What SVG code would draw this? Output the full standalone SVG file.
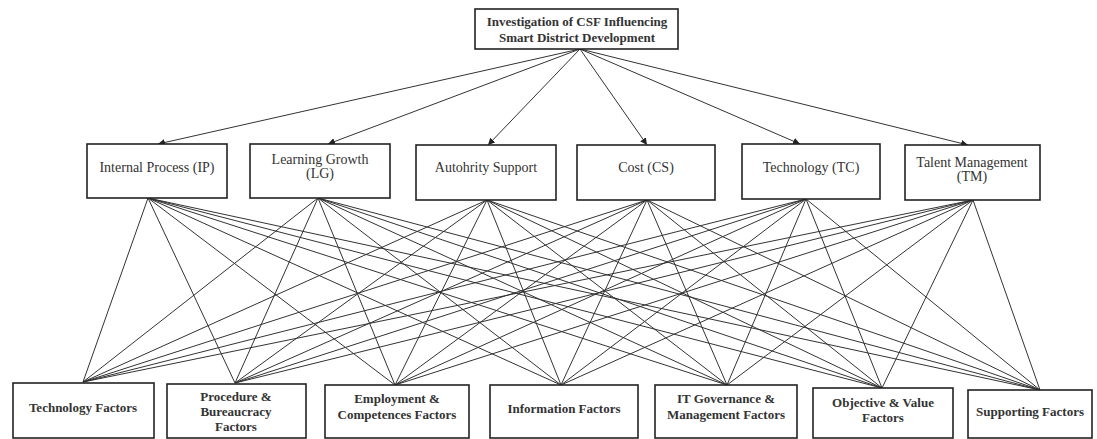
<svg xmlns="http://www.w3.org/2000/svg" width="1097" height="439" viewBox="0 0 1097 439">
<defs>
<marker id="arr" viewBox="0 0 10 10" refX="10" refY="5" markerWidth="7" markerHeight="7" orient="auto-start-reverse" markerUnits="userSpaceOnUse">
<path d="M0,0 L10,5 L0,10 z" fill="#222"/>
</marker>
<style>
.box{fill:#fff;stroke:#222;stroke-width:1.6}
.t{font-family:"Liberation Serif","Times New Roman",serif;font-size:14px;fill:#333;text-anchor:middle}
.b{font-weight:bold;font-size:13px}
.c line{stroke:#333;stroke-width:1}
</style>
</defs>
<rect width="1097" height="439" fill="#fff"/>
<g id="connectors" class="c">
<g id="top-links">
<line x1="580" y1="49" x2="158" y2="144" marker-end="url(#arr)"/>
<line x1="580" y1="49" x2="328" y2="144" marker-end="url(#arr)"/>
<line x1="580" y1="49" x2="488" y2="145" marker-end="url(#arr)"/>
<line x1="580" y1="49" x2="647" y2="145" marker-end="url(#arr)"/>
<line x1="580" y1="49" x2="800" y2="144" marker-end="url(#arr)"/>
<line x1="580" y1="49" x2="968" y2="145" marker-end="url(#arr)"/>
</g>
<g id="bottom-links">
<line x1="148" y1="198" x2="83" y2="382"/><line x1="148" y1="198" x2="235" y2="383"/><line x1="148" y1="198" x2="395" y2="385"/><line x1="148" y1="198" x2="561" y2="385"/><line x1="148" y1="198" x2="727" y2="385"/><line x1="148" y1="198" x2="882" y2="388"/><line x1="148" y1="198" x2="1040" y2="390"/>
<line x1="318" y1="198" x2="83" y2="382"/><line x1="318" y1="198" x2="235" y2="383"/><line x1="318" y1="198" x2="395" y2="385"/><line x1="318" y1="198" x2="561" y2="385"/><line x1="318" y1="198" x2="727" y2="385"/><line x1="318" y1="198" x2="882" y2="388"/><line x1="318" y1="198" x2="1040" y2="390"/>
<line x1="487" y1="200" x2="83" y2="382"/><line x1="487" y1="200" x2="235" y2="383"/><line x1="487" y1="200" x2="395" y2="385"/><line x1="487" y1="200" x2="561" y2="385"/><line x1="487" y1="200" x2="727" y2="385"/><line x1="487" y1="200" x2="882" y2="388"/><line x1="487" y1="200" x2="1040" y2="390"/>
<line x1="647" y1="200" x2="83" y2="382"/><line x1="647" y1="200" x2="235" y2="383"/><line x1="647" y1="200" x2="395" y2="385"/><line x1="647" y1="200" x2="561" y2="385"/><line x1="647" y1="200" x2="727" y2="385"/><line x1="647" y1="200" x2="882" y2="388"/><line x1="647" y1="200" x2="1040" y2="390"/>
<line x1="806" y1="199" x2="83" y2="382"/><line x1="806" y1="199" x2="235" y2="383"/><line x1="806" y1="199" x2="395" y2="385"/><line x1="806" y1="199" x2="561" y2="385"/><line x1="806" y1="199" x2="727" y2="385"/><line x1="806" y1="199" x2="882" y2="388"/><line x1="806" y1="199" x2="1040" y2="390"/>
<line x1="973" y1="200" x2="83" y2="382"/><line x1="973" y1="200" x2="235" y2="383"/><line x1="973" y1="200" x2="395" y2="385"/><line x1="973" y1="200" x2="561" y2="385"/><line x1="973" y1="200" x2="727" y2="385"/><line x1="973" y1="200" x2="882" y2="388"/><line x1="973" y1="200" x2="1040" y2="390"/>
</g>
</g>
<g id="root"><rect class="box" x="475" y="9" width="203" height="40"/><text class="t b" x="577" y="26">Investigation of CSF Influencing</text><text class="t b" x="577" y="42">Smart District Development</text></g>
<g id="ip"><rect class="box" x="87" y="144" width="140" height="54"/><text class="t" x="157" y="172">Internal Process (IP)</text></g>
<g id="lg"><rect class="box" x="250" y="144" width="140" height="54"/><text class="t" x="320" y="164">Learning Growth</text><text class="t" x="320" y="178">(LG)</text></g>
<g id="as"><rect class="box" x="416" y="145" width="140" height="55"/><text class="t" x="486" y="172">Autohrity Support</text></g>
<g id="cs"><rect class="box" x="577" y="145" width="138" height="55"/><text class="t" x="646" y="172">Cost (CS)</text></g>
<g id="tc"><rect class="box" x="742" y="144" width="138" height="55"/><text class="t" x="811" y="172">Technology (TC)</text></g>
<g id="tm"><rect class="box" x="905" y="145" width="135" height="55"/><text class="t" x="972" y="167">Talent Management</text><text class="t" x="972" y="181">(TM)</text></g>
<g id="tf"><rect class="box" x="13" y="383" width="141" height="55"/><text class="t b" x="83" y="412">Technology Factors</text></g>
<g id="pb"><rect class="box" x="167" y="384" width="139" height="54"/><text class="t b" x="236" y="401">Procedure &amp;</text><text class="t b" x="236" y="416">Bureaucracy</text><text class="t b" x="236" y="431">Factors</text></g>
<g id="ec"><rect class="box" x="325" y="385" width="144" height="53"/><text class="t b" x="397" y="403">Employment &amp;</text><text class="t b" x="397" y="419">Competences Factors</text></g>
<g id="if"><rect class="box" x="490" y="385" width="148" height="53"/><text class="t b" x="564" y="413">Information Factors</text></g>
<g id="it"><rect class="box" x="655" y="385" width="142" height="53"/><text class="t b" x="726" y="403">IT Governance &amp;</text><text class="t b" x="726" y="419">Management Factors</text></g>
<g id="ov"><rect class="box" x="813" y="388" width="140" height="50"/><text class="t b" x="883" y="407">Objective &amp; Value</text><text class="t b" x="883" y="422">Factors</text></g>
<g id="sf"><rect class="box" x="968" y="390" width="124" height="48"/><text class="t b" x="1030" y="416">Supporting Factors</text></g>
</svg>
